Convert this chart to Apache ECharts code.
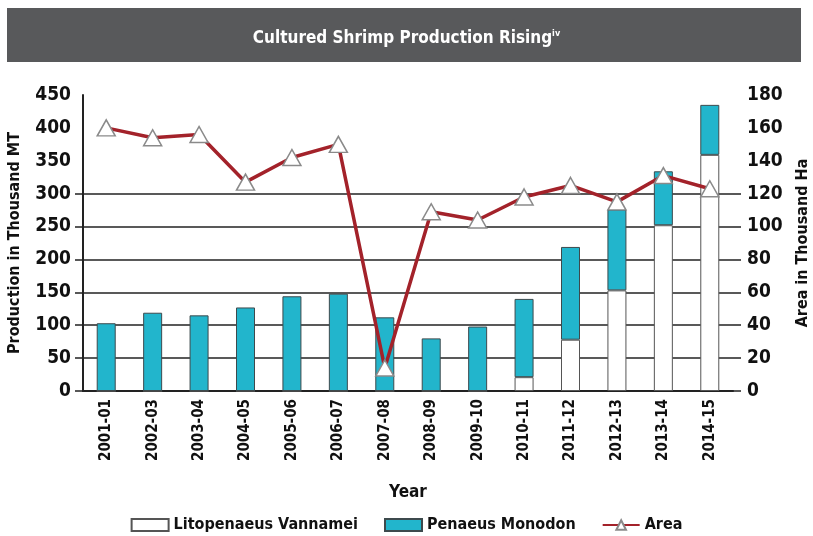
<!DOCTYPE html>
<html>
<head>
<meta charset="utf-8">
<script src="https://cdn.jsdelivr.net/npm/echarts@6/dist/echarts.min.js"></script>
<style>
html,body{margin:0;padding:0;background:#fff;}
#chart{width:813px;height:536px;}
</style>
</head>
<body>
<div id="chart"></div>
<script>
const categories = ['2001-01','2002-03','2003-04','2004-05','2005-06','2006-07','2007-08','2008-09','2009-10','2010-11','2011-12','2012-13','2013-14','2014-15'];
const vannamei = [0,0,0,0,0,0,0,0,0,21,78,153,252,359];
const monodon = [103,119,115,127,144,148,112,80,98,119,141,123,82,76];
const area = [160,154,156,127,142,150,14,109,104,118,125,115,131,123];
const leftTicks = [0,50,100,150,200,250,300];
const rightTicks = [0,20,40,60,80,100,120];

const FONT = 'DejaVu Sans Condensed';
const chart = echarts.init(document.getElementById('chart'));
const gridColors = ['#222','#222','#222','#222','#222','#222','#222','rgba(0,0,0,0)','rgba(0,0,0,0)','rgba(0,0,0,0)'];

chart.setOption({
  backgroundColor: '#fff',
  animation: false,
  graphic: [{
    type: 'rect', left: 7, top: 8, shape: {width: 794, height: 54},
    style: {fill: '#58595b'}, z: 0
  }],
  title: {
    text: '{a|Cultured Shrimp Production Rising}{b|iv}',
    left: 'center', top: 24,
    textStyle: {
      rich: {
        a: {color: '#fff', fontSize: 17, fontWeight: 'bold', fontFamily: FONT},
        b: {color: '#fff', fontSize: 9, fontWeight: 'bold', fontFamily: FONT, padding: [0,0,10,0]}
      }
    },
    z: 5
  },
  grid: {left: 83, right: 80, top: 95, bottom: 145, containLabel: false, outerBoundsMode: 'none'},
  legend: {
    top: 512, left: 'center', itemWidth: 37, itemHeight: 12, itemGap: 26,
    textStyle: {fontFamily: FONT, fontWeight: 'bold', fontSize: 16, color: '#111'},
    data: [
      {name: 'Litopenaeus Vannamei', icon: 'rect'},
      {name: 'Penaeus Monodon', icon: 'rect'},
      {name: 'Area'}
    ]
  },
  xAxis: {
    type: 'category', data: categories,
    name: 'Year', nameLocation: 'middle', nameGap: 93,
    nameTextStyle: {fontFamily: FONT, fontWeight: 'bold', fontSize: 17, color: '#111'},
    axisLine: {lineStyle: {color: '#222', width: 2}},
    axisTick: {show: false},
    axisLabel: {rotate: 90, fontFamily: FONT, fontWeight: 'bold', fontSize: 15, color: '#111', margin: 8}
  },
  yAxis: [{
    type: 'value', min: 0, max: 450, interval: 50, position: 'left',
    name: 'Production in Thousand MT', nameLocation: 'middle', nameGap: 60, nameRotate: 90,
    nameTextStyle: {fontFamily: FONT, fontWeight: 'bold', fontSize: 16, color: '#111'},
    axisLine: {show: true, lineStyle: {color: '#222', width: 2}},
    axisTick: {show: true, length: 8, customValues: leftTicks, lineStyle: {color: '#222', width: 1.5}},
    axisLabel: {fontFamily: FONT, fontWeight: 'bold', fontSize: 19, color: '#111', margin: 12},
    splitLine: {show: true, lineStyle: {color: gridColors, width: 1.5}}
  }, {
    type: 'value', min: 0, max: 180, interval: 20, position: 'right',
    name: 'Area in Thousand Ha', nameLocation: 'middle', nameGap: 62, nameRotate: 90,
    nameTextStyle: {fontFamily: FONT, fontWeight: 'bold', fontSize: 16, color: '#111'},
    axisLine: {show: false},
    axisTick: {show: true, length: 8, customValues: rightTicks, lineStyle: {color: '#222', width: 1.5}},
    axisLabel: {fontFamily: FONT, fontWeight: 'bold', fontSize: 19, color: '#111', margin: 14},
    splitLine: {show: false}
  }],
  series: [{
    name: 'Litopenaeus Vannamei', type: 'bar', stack: 'p', data: vannamei, barWidth: 19,
    itemStyle: {color: '#ffffff', borderColor: '#555', borderWidth: 1}
  }, {
    name: 'Penaeus Monodon', type: 'bar', stack: 'p', data: monodon, barWidth: 19,
    itemStyle: {color: '#22b5cc', borderColor: '#3d4a4d', borderWidth: 1}
  }, {
    name: 'Area', type: 'line', yAxisIndex: 1, data: area, z: 10,
    symbol: 'triangle', symbolSize: [18, 16],
    lineStyle: {color: '#a3222a', width: 3.5},
    itemStyle: {color: '#ffffff', borderColor: '#8a8a8a', borderWidth: 1.5}
  }]
});
</script>
</body>
</html>
